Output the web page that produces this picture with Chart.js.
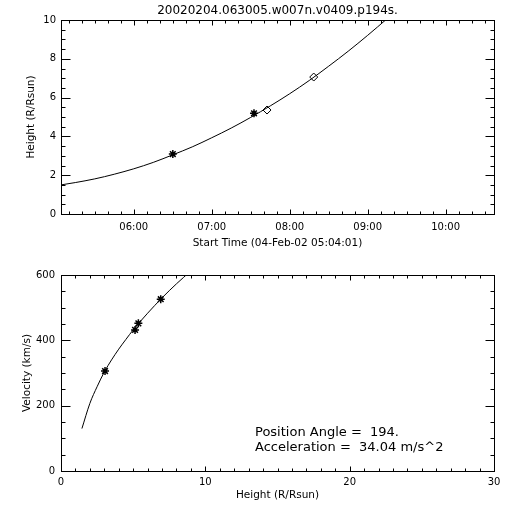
<!DOCTYPE html>
<html><head><meta charset="utf-8">
<script src="https://cdn.jsdelivr.net/npm/chart.js@4/dist/chart.umd.min.js"></script>
<style>
html,body{margin:0;padding:0;background:#fff;}
#wrap{position:relative;width:512px;height:512px;background:#fff;}
canvas{position:absolute;left:0;display:block;}
</style></head><body>
<div id="wrap">
<canvas id="c1" width="512" height="256" style="top:0"></canvas>
<canvas id="c2" width="512" height="256" style="top:256px"></canvas>
</div>
<script>
// ---------- data ----------
const chartTitle = '20020204.063005.w007n.v0409.p194s.';
const topXTitle = 'Start Time (04-Feb-02 05:04:01)';
const topYTitle = 'Height (R/Rsun)';
const botXTitle = 'Height (R/Rsun)';
const botYTitle = 'Velocity (km/s)';
const annotLines = ['Position Angle =  194.', 'Acceleration =  34.04 m/s^2'];

// top panel: time in clock hours, height in R/Rsun
const fitTimes   = [5.0669, 5.25, 5.5, 5.75, 6.0, 6.25, 6.5, 6.75, 7.0, 7.25, 7.5, 7.75, 8.0, 8.25, 8.5, 8.75, 9.0, 9.25];
const fitHeights = [1.50, 1.62, 1.81, 2.05, 2.33, 2.66, 3.05, 3.46, 3.93, 4.43, 4.98, 5.57, 6.20, 6.88, 7.62, 8.39, 9.21, 10.07];
const starTimes   = [6.501, 7.542];
const starHeights = [3.09, 5.19];
const diamondTimes   = [7.709, 8.308];
const diamondHeights = [5.36, 7.06];

// bottom panel: height vs velocity
const velFitHeights = [1.45, 2.0, 2.5, 3.0, 3.5, 4.0, 4.5, 5.0, 5.5, 6.0, 6.5, 7.0, 7.5, 8.0, 8.5, 9.0];
const velFitValues  = [130, 207, 258, 303, 340, 373, 403, 432, 458, 483, 507, 530, 552, 573, 593, 613];
const velPtHeights = [3.05, 5.13, 5.36, 6.91];
const velPtValues  = [306, 432, 452, 526];

// ticks
const timeTicks = [6, 7, 8, 9, 10];
const timeTickLabels = ['06:00', '07:00', '08:00', '09:00', '10:00'];
const topHeightTicks = [0, 2, 4, 6, 8, 10];
const botHeightTicks = [0, 10, 20, 30];
const velTicks = [0, 200, 400, 600];

const FONT = 'DejaVu Sans';

function framePlugin(spec) {
  return {
    id: 'frame',
    afterDraw(chart) {
      const {ctx, chartArea: a, scales: {x, y}} = chart;
      ctx.save();
      ctx.strokeStyle = '#000';
      ctx.lineWidth = 1;
      const L = Math.round(a.left) + 0.5, R = Math.round(a.right) + 0.5;
      const T = Math.round(a.top) + 0.5, B = Math.round(a.bottom) + 0.5;
      ctx.strokeRect(L, T, R - L, B - T);
      ctx.beginPath();
      const xs = [];
      for (let v = spec.xMinorStart; v <= x.max + 1e-9; v += spec.xMinorStep) xs.push(v);
      xs.forEach(v => {
        if (v < x.min) return;
        const major = spec.xMajor.some(m => Math.abs(m - v) < 1e-6);
        const len = major ? spec.xMajLen : spec.xMinLen;
        const px = Math.round(x.getPixelForValue(v)) + 0.5;
        ctx.moveTo(px, B); ctx.lineTo(px, B - len);
        ctx.moveTo(px, T); ctx.lineTo(px, T + len);
      });
      for (let v = y.min; v <= y.max + 1e-9; v += spec.yMinorStep) {
        const major = spec.yMajor.some(m => Math.abs(m - v) < 1e-6);
        const len = major ? spec.yMajLen : spec.yMinLen;
        const py = Math.round(y.getPixelForValue(v)) + 0.5;
        ctx.moveTo(L, py); ctx.lineTo(L + len, py);
        ctx.moveTo(R, py); ctx.lineTo(R - len, py);
      }
      ctx.stroke();
      if (spec.after) spec.after(ctx, chart);
      ctx.restore();
    }
  };
}

function axisCommon(extra) {
  return Object.assign({
    type: 'linear',
    grid: {display: false, drawTicks: false},
    border: {display: false},
  }, extra);
}

// ---------- top chart ----------
new Chart(document.getElementById('c1'), {
  type: 'scatter',
  data: {
    datasets: [
      {data: fitTimes.map((t, i) => ({x: t, y: fitHeights[i]})), showLine: true, borderColor: '#000',
       borderWidth: 1, pointRadius: 0, cubicInterpolationMode: 'monotone'},
      {data: starTimes.map((t, i) => ({x: t, y: starHeights[i]})), pointStyle: 'star', pointRadius: 4,
       borderColor: '#000', backgroundColor: '#000', borderWidth: 1.5},
      {data: diamondTimes.map((t, i) => ({x: t, y: diamondHeights[i]})), pointStyle: 'rectRot', pointRadius: 4,
       borderColor: '#000', backgroundColor: 'rgba(0,0,0,0)', borderWidth: 1}
    ]
  },
  options: {
    responsive: false, animation: false, devicePixelRatio: 1,
    layout: {padding: {top: 20, right: 18, left: 0, bottom: 0}},
    plugins: {legend: {display: false}, tooltip: {enabled: false}},
    scales: {
      x: axisCommon({
        min: 5.0669, max: 10.62,
        afterFit: s => { s.height = 42; },
        afterBuildTicks: s => { s.ticks = timeTicks.map(v => ({value: v})); },
        ticks: {callback: v => timeTickLabels[timeTicks.indexOf(v)], color: '#000', font: {family: FONT, size: 10},
                padding: 7, maxRotation: 0, autoSkip: false},
        title: {display: true, text: topXTitle, color: '#000', font: {family: FONT, size: 10.5}, padding: {top: 0, bottom: 6.5}}
      }),
      y: axisCommon({
        min: 0, max: 10,
        afterFit: s => { s.width = 61; },
        afterBuildTicks: s => { s.ticks = topHeightTicks.map(v => ({value: v})); },
        ticks: {color: '#000', font: {family: FONT, size: 10}, padding: 5, autoSkip: false},
        title: {display: true, text: topYTitle, color: '#000', font: {family: FONT, size: 10.5}, padding: {top: 25, bottom: 0}}
      })
    }
  },
  plugins: [framePlugin({
    xMajor: timeTicks, xMinorStart: 5 + 10 / 60, xMinorStep: 1 / 6, xMajLen: 5, xMinLen: 3,
    yMajor: topHeightTicks, yMinorStep: 0.5, yMajLen: 9, yMinLen: 4,
    after(ctx) {
      ctx.fillStyle = '#000';
      ctx.font = '12px "' + FONT + '"';
      ctx.textAlign = 'center';
      ctx.textBaseline = 'middle';
      ctx.fillText(chartTitle, 277.5, 11);
    }
  })]
});

// ---------- bottom chart ----------
new Chart(document.getElementById('c2'), {
  type: 'scatter',
  data: {
    datasets: [
      {data: velFitHeights.map((h, i) => ({x: h, y: velFitValues[i]})), showLine: true, borderColor: '#000',
       borderWidth: 1, pointRadius: 0, cubicInterpolationMode: 'monotone'},
      {data: velPtHeights.map((h, i) => ({x: h, y: velPtValues[i]})), pointStyle: 'star', pointRadius: 4,
       borderColor: '#000', backgroundColor: '#000', borderWidth: 1.5}
    ]
  },
  options: {
    responsive: false, animation: false, devicePixelRatio: 1,
    layout: {padding: {top: 19, right: 18, left: 0, bottom: 0}},
    plugins: {legend: {display: false}, tooltip: {enabled: false}},
    scales: {
      x: axisCommon({
        min: 0, max: 30,
        afterFit: s => { s.height = 41; },
        afterBuildTicks: s => { s.ticks = botHeightTicks.map(v => ({value: v})); },
        ticks: {color: '#000', font: {family: FONT, size: 10}, padding: 5, maxRotation: 0, autoSkip: false},
        title: {display: true, text: botXTitle, color: '#000', font: {family: FONT, size: 10.5}, padding: {top: 0, bottom: 10.5}}
      }),
      y: axisCommon({
        min: 0, max: 600,
        afterFit: s => { s.width = 61; },
        afterBuildTicks: s => { s.ticks = velTicks.map(v => ({value: v})); },
        ticks: {color: '#000', font: {family: FONT, size: 10}, padding: 6, autoSkip: false},
        title: {display: true, text: botYTitle, color: '#000', font: {family: FONT, size: 10.5}, padding: {top: 20.5, bottom: 0}}
      })
    }
  },
  plugins: [framePlugin({
    xMajor: botHeightTicks, xMinorStart: 0, xMinorStep: 1, xMajLen: 5, xMinLen: 3,
    yMajor: velTicks, yMinorStep: 50, yMajLen: 9, yMinLen: 4,
    after(ctx) {
      ctx.fillStyle = '#000';
      ctx.font = '13px "' + FONT + '"';
      ctx.textAlign = 'left';
      ctx.textBaseline = 'middle';
      ctx.fillText(annotLines[0], 255, 177);
      ctx.fillText(annotLines[1], 255, 192);
    }
  })]
});
</script>
</body></html>
